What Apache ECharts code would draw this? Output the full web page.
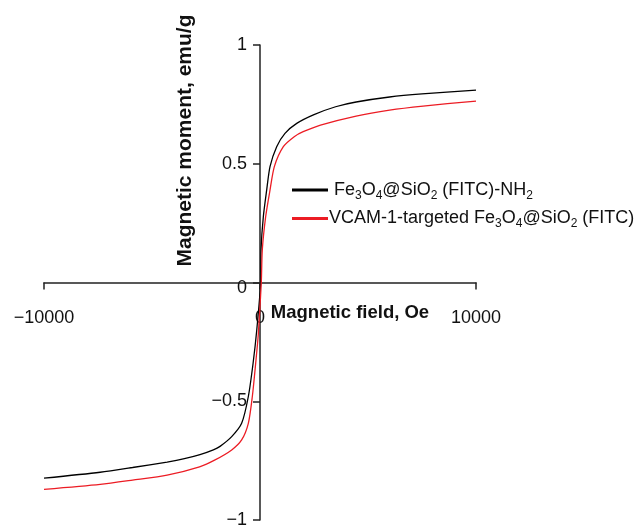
<!DOCTYPE html>
<html>
<head>
<meta charset="utf-8">
<script src="https://cdn.jsdelivr.net/npm/echarts@6/dist/echarts.min.js"></script>
<style>html,body{margin:0;padding:0;background:#fff}#c{width:644px;height:527px}</style>
</head>
<body>
<div id="c"></div>
<script>
// Data (field in Oe, moment in emu/g)
var seriesNames = ['Fe3O4@SiO2 (FITC)-NH2', 'VCAM-1-targeted Fe3O4@SiO2 (FITC)'];
var blackField = [-10000, -7400, -5900, -4300, -3500, -2780, -2160, -1850, -1310, -850, -540, -320, -150, 30, 46, 154, 309, 463, 772, 1157, 1700, 2500, 3500, 4450, 6000, 7500, 10000];
var blackMoment = [-0.824, -0.799, -0.779, -0.756, -0.742, -0.725, -0.705, -0.69, -0.649, -0.593, -0.48, -0.34, -0.2, 0, 0.137, 0.277, 0.389, 0.488, 0.572, 0.628, 0.67, 0.707, 0.740, 0.760, 0.781, 0.794, 0.81];
var redField = [-10000, -7400, -5900, -4300, -2800, -2080, -1310, -850, -540, -355, -200, -80, 60, 106, 262, 463, 664, 1080, 1600, 2000, 2800, 4450, 6000, 7550, 10000];
var redMoment = [-0.871, -0.85, -0.832, -0.811, -0.776, -0.747, -0.705, -0.663, -0.593, -0.48, -0.34, -0.22, 0, 0.137, 0.277, 0.389, 0.488, 0.572, 0.615, 0.635, 0.663, 0.701, 0.726, 0.743, 0.764];
var xTicks = [-10000, 0, 10000];
var yTicks = [-1, -0.5, 0, 0.5, 1];

function pairs(xs, ys) { return xs.map(function (x, i) { return [x, ys[i]]; }); }

var legendRich = {
  'Fe3O4@SiO2 (FITC)-NH2': ' Fe{s|3}O{s|4}@SiO{s|2} (FITC)-NH{s|2}',
  'VCAM-1-targeted Fe3O4@SiO2 (FITC)': 'VCAM-1-targeted Fe{s|3}O{s|4}@SiO{s|2} (FITC)'
};

var W = 644, H = 527;
var grid = { left: 44, right: 168, top: 45, bottom: 7 };
var plotW = W - grid.left - grid.right, plotH = H - grid.top - grid.bottom;
// place axes through the origin
var yOffset = -plotW * (0 - xTicks[0]) / (xTicks[2] - xTicks[0]);
var xOffset = -plotH * (0 - yTicks[0]) / (yTicks[4] - yTicks[0]);

var chart = echarts.init(document.getElementById('c'));
chart.setOption({
  animation: false,
  backgroundColor: '#fff',
  textStyle: { fontFamily: 'Liberation Sans, Arial, sans-serif' },
  grid: { left: grid.left, right: grid.right, top: grid.top, bottom: grid.bottom, containLabel: false, outerBoundsMode: 'none' },
  legend: {
    left: 287, top: 176, orient: 'vertical', itemGap: 8,
    icon: 'rect', itemWidth: 36, itemHeight: 3,
    data: seriesNames,
    formatter: function (n) { return legendRich[n]; },
    textStyle: {
      fontSize: 18, color: '#111', padding: [0, 0, 0, -4],
      rich: { s: { fontSize: 12, padding: [11, 0, 0, 0], color: '#111' } }
    }
  },
  xAxis: {
    type: 'value', min: xTicks[0], max: xTicks[2], interval: 10000,
    position: 'bottom', offset: xOffset,
    splitLine: { show: false },
    axisLine: { onZero: false, lineStyle: { color: '#222', width: 1.5 } },
    axisTick: { show: true, length: 7, lineStyle: { color: '#222', width: 1.5 } },
    axisLabel: {
      fontSize: 18, color: '#111', margin: 27,
      formatter: function (v) { return v < 0 ? '\u2212' + Math.abs(v) : String(v); }
    },
    name: 'Magnetic field, Oe', nameLocation: 'middle', nameGap: 21, nameMoveOverlap: false,
    nameTextStyle: { fontSize: 18.5, fontWeight: 'bold', color: '#111', padding: [0, 0, 0, 180] }
  },
  yAxis: {
    type: 'value', min: yTicks[0], max: yTicks[4], interval: 0.5,
    position: 'left', offset: yOffset,
    splitLine: { show: false },
    axisLine: { onZero: false, lineStyle: { color: '#222', width: 1.5 } },
    axisTick: { show: true, length: 7, lineStyle: { color: '#222', width: 1.5 } },
    axisLabel: {
      fontSize: 18, color: '#111', margin: 13,
      formatter: function (v) {
        if (v === 0) return '{z|0}';
        return v < 0 ? '\u2212' + Math.abs(v) : String(v);
      },
      rich: { z: { fontSize: 18, color: '#111', padding: [12, 0, 0, 0] } }
    },
    name: 'Magnetic moment, emu/g', nameLocation: 'middle', nameGap: 64,
    nameTextStyle: { fontSize: 21, fontWeight: 'bold', color: '#111', padding: [0, 0, 0, 284] }
  },
  series: [
    { name: seriesNames[0], type: 'line', data: pairs(blackField, blackMoment), smooth: 0.25,
      showSymbol: false, lineStyle: { color: '#000', width: 1.3 }, itemStyle: { color: '#000' } },
    { name: seriesNames[1], type: 'line', data: pairs(redField, redMoment), smooth: 0.25,
      showSymbol: false, lineStyle: { color: '#ec1c24', width: 1.3 }, itemStyle: { color: '#ec1c24' } }
  ]
});
</script>
</body>
</html>
